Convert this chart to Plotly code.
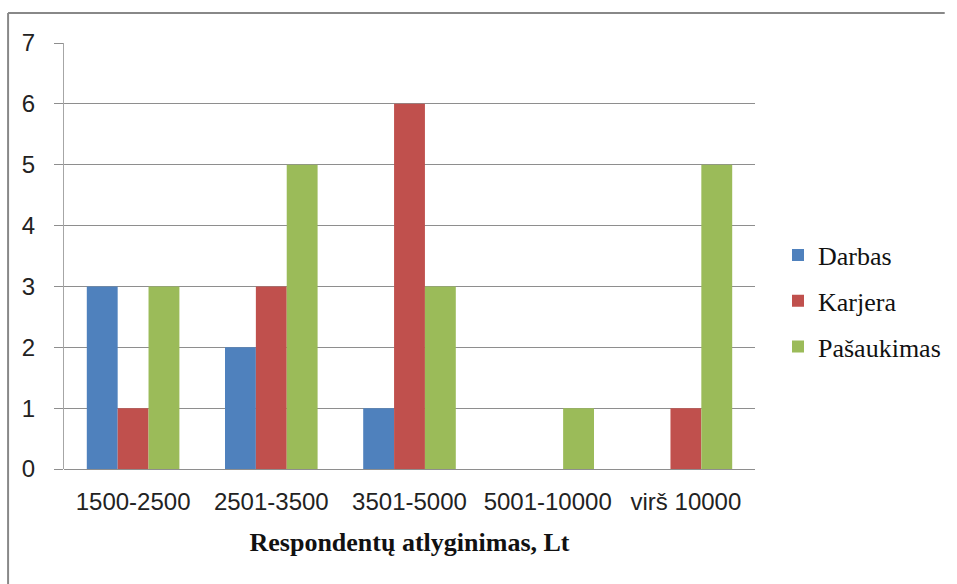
import plotly.graph_objects as go

categories = ["1500-2500", "2501-3500", "3501-5000", "5001-10000", "virš 10000"]
darbas = [3, 2, 1, 0, 0]
karjera = [1, 3, 6, 0, 1]
pasaukimas = [3, 5, 3, 1, 5]
series_names = ["Darbas", "Karjera", "Pašaukimas"]
colors = ["#4F81BD", "#C0504D", "#9BBB59"]
y_ticks = [0, 1, 2, 3, 4, 5, 6, 7]

fig = go.Figure()
for i, (name, vals) in enumerate(zip(series_names, [darbas, karjera, pasaukimas])):
    fig.add_trace(go.Bar(x=categories, y=vals, name=name, marker_color=colors[i],
                         marker_line_width=0, legendgroup=name))

W, H = 957, 584
ml, mr, mt, mb = 64, 201, 43, 115
pw, ph = W - ml - mr, H - mt - mb

bx0 = (8 - ml) / pw
by1 = 1 + (mt - 13) / ph
border = dict(color="#888888", width=2)

fig.update_layout(
    width=W, height=H,
    margin=dict(l=ml, r=mr, t=mt, b=mb),
    paper_bgcolor="white", plot_bgcolor="white",
    barmode="group", bargap=0.33, bargroupgap=0,
    showlegend=True,
    legend=dict(x=(778 - ml) / pw, xanchor="left", y=(H - mb - 301) / ph, yanchor="middle",
                font=dict(family="Liberation Serif", size=26, color="#111"),
                traceorder="grouped", tracegroupgap=9, bgcolor="rgba(0,0,0,0)"),
    xaxis=dict(showgrid=False, showline=False, ticks="", tickfont=dict(family="Liberation Sans", size=24, color="#222"),
               ticklabelstandoff=16,
               title=dict(text="<b>Respondentų atlyginimas, Lt</b>",
                          font=dict(family="Liberation Serif", size=26, color="#111"), standoff=18)),
    yaxis=dict(range=[0, 7], tickvals=y_ticks, showgrid=True, gridcolor="#8e8e8e", gridwidth=1,
               showline=True, linecolor="#a6a6a6", linewidth=1,
               ticks="outside", ticklen=9, tickcolor="#8e8e8e",
               tickfont=dict(family="Liberation Sans", size=24, color="#222"),
               ticklabelstandoff=14, zeroline=True, zerolinecolor="#8e8e8e", zerolinewidth=1),
    shapes=[
        dict(type="line", xref="paper", yref="paper", x0=bx0, x1=(946 - ml) / pw, y0=by1, y1=by1,
             line=border, layer="below"),
        dict(type="line", xref="paper", yref="paper", x0=bx0, x1=bx0, y0=by1, y1=-mb / ph,
             line=border, layer="below"),
    ],
)

fig.write_html("out.html", config={"displayModeBar": False})
